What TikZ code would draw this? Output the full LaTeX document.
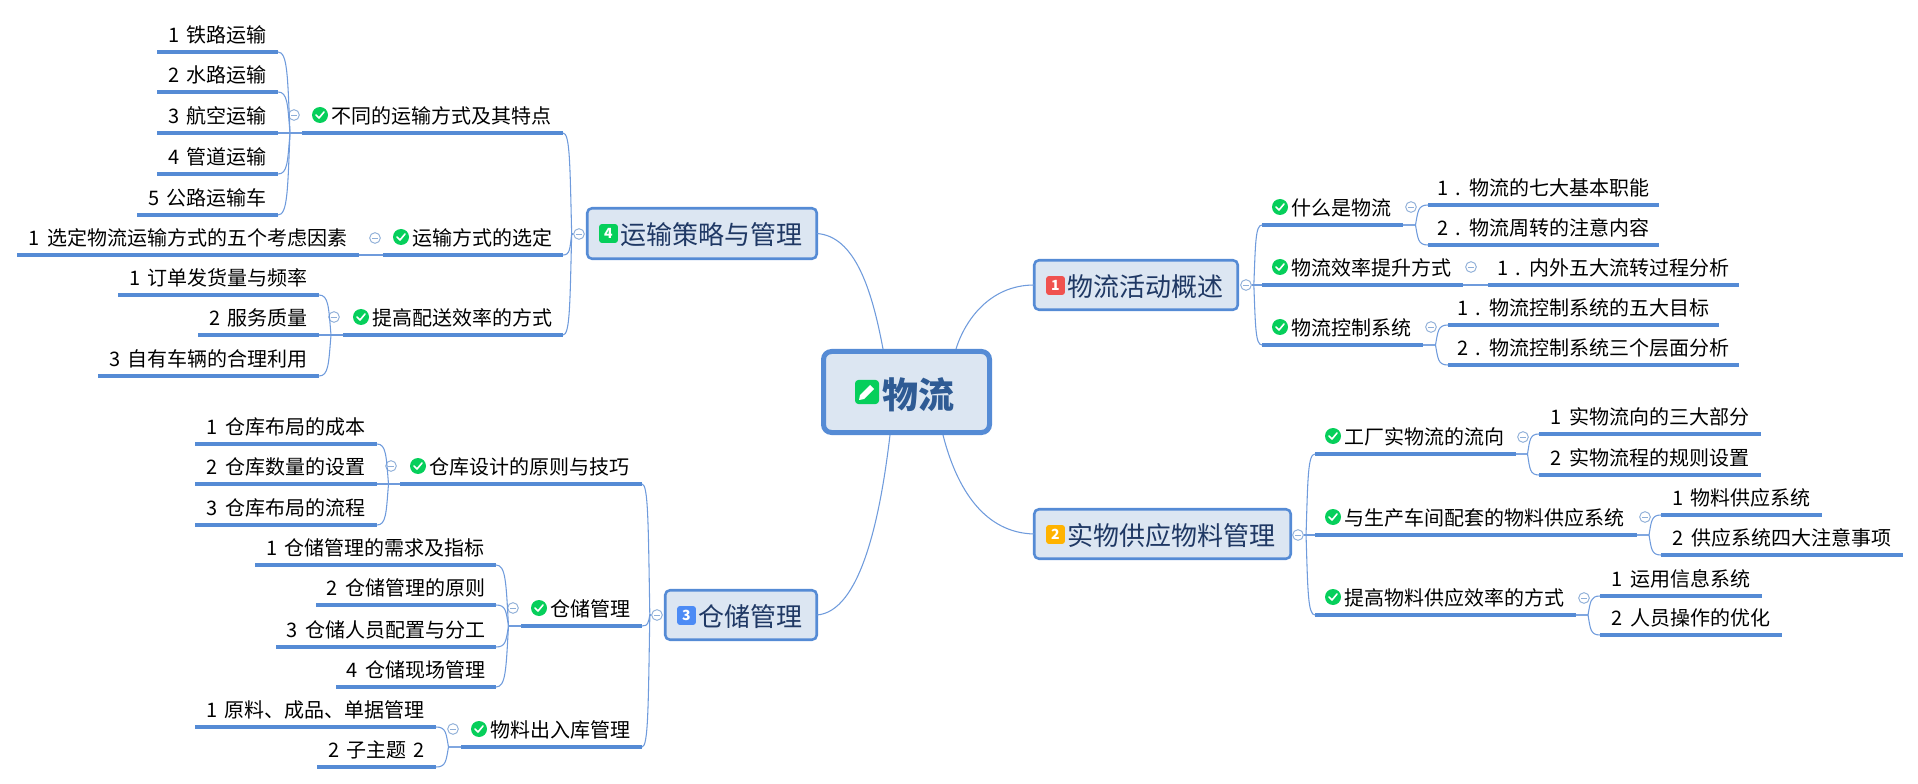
\documentclass[tikz,border=0pt]{standalone}
\usepackage{fontspec}
\setmainfont{Noto Sans CJK SC}
\usetikzlibrary{calc}
\definecolor{mmline}{HTML}{558BD5}
\definecolor{mmthin}{HTML}{6F9BDC}
\definecolor{mmfill}{HTML}{DCE6F2}
\definecolor{mmdark}{HTML}{1F3864}
\definecolor{mmroot}{HTML}{2F5B94}
\definecolor{mmgreen}{HTML}{06CF5B}
\definecolor{mmred}{HTML}{F0524F}
\definecolor{mmamber}{HTML}{FFB300}
\definecolor{mmblue}{HTML}{4C8BF5}
\definecolor{mmcoll}{HTML}{8FAFD8}
\tikzset{
  topicbase/.style={inner sep=0pt,outer sep=0pt,anchor=south west,minimum height=25.5pt,text height=13pt,text depth=1.6pt,font=\fontsize{15}{18}\selectfont,text=black},
  mainbox/.style={draw=mmline,fill=mmfill,line width=1.9pt,rounded corners=3.5pt,inner sep=0pt,outer sep=0pt,anchor=south west,text height=18pt,text depth=1.2pt,font=\fontsize{19.5}{22}\selectfont,text=mmdark},
  rootbox/.style={draw=mmline,fill=mmfill,line width=3.75pt,rounded corners=6pt,inner sep=0pt,outer sep=0pt,anchor=south west,text height=26.5pt,text depth=1.4pt,font=\fontsize{27}{30}\selectfont\bfseries,text=mmroot},
  under/.style={draw=mmline,line width=2.4pt},
  conn/.style={draw=mmthin,line width=.8pt},
  collbox/.style={circle,draw=mmcoll,fill=white,line width=.7pt,inner sep=0pt,minimum size=8pt},
  checkdot/.style={circle,fill=mmgreen,inner sep=0pt,minimum size=12pt},
  badge/.style={fill=#1,rounded corners=2.2pt,inner sep=0pt,minimum size=14.2pt,text=white,font=\fontsize{10.5}{11}\selectfont\bfseries}
}
\newcommand\mmleaf[5]{%
  \pgfmathsetlengthmacro\mmw{(#3-#2)*.75pt}%
  \node[topicbase,minimum width=\mmw] (#1) at (#2,#4) {\spaceskip=.37em\relax #5};
  \draw[under] (#1.south west) -- (#1.south east);
}
\newcommand\mmsub[5]{%
  \pgfmathsetlengthmacro\mmw{(#3-#2)*.75pt}%
  \node[topicbase,text width=\mmw,align=left] (#1) at (#2,#4) {\hspace*{21.75pt}#5};
  \draw[under] (#1.south west) -- (#1.south east);
  \node[checkdot] (#1chk) at ([shift={(18,-18)}]#1.south west) {};
  \draw[white,line width=1.2pt,line cap=round,line join=round] ([shift={(-4,0)}]#1chk.center) -- ([shift={(-1,3)}]#1chk.center) -- ([shift={(4,-3)}]#1chk.center);
}
\newcommand\mmmain[7]{% name x1 y1 x2 y2 colour text
  \pgfmathsetlengthmacro\mmw{(#4-#2-2.5)*.75pt}%
  \pgfmathsetlengthmacro\mmh{(#5-#3-2.5)*.75pt}%
  \pgfmathsetmacro\mmxa{#2+1.25}%
  \pgfmathsetmacro\mmya{#5-1.25}%
  \node[mainbox,text width=\mmw,minimum height=\mmh,align=left] (#1) at (\mmxa,\mmya) {\hspace*{25.3pt}#7};
  \node[badge=#6] (#1ic) at ([shift={(21.25,25.25)}]#1.west |- #1.north) {\csname mmnum#1\endcsname};
}
\newcommand\mmcoll[3]{%
  \node[collbox] (#1) at (#2,#3) {};
  \draw[mmcoll,line width=.7pt] ([shift={(-3,0)}]#1.center) -- ([shift={(3,0)}]#1.center);
}
\newcommand\mmlink[3][.5]{%
  \draw[conn] let \p1=(#2),\p2=(#3),\n1={\x1+#1*(\x2-\x1)} in
    (\p1) -- (\n1,\y1) .. controls ({\n1+.2*(\x2-\n1)},{\y1+.7*(\y2-\y1)}) and ({\n1+.2*(\x2-\n1)},\y2) .. (\p2);
}
\def\mmnumma{1}\def\mmnummb{2}\def\mmnummc{3}\def\mmnummd{4}
\begin{document}
\begin{tikzpicture}[x=.75pt,y=-.75pt]
\useasboundingbox (0,0) rectangle (1918,784);
\coordinate (rn1) at (883,349);\coordinate (rn2) at (956,349);
\coordinate (rs1) at (890,435);\coordinate (rs2) at (943,435);
% main topics
\mmmain{ma}{1033}{259}{1239}{311}{mmred}{物流活动概述}
\mmmain{mb}{1033}{508}{1292}{560}{mmamber}{实物供应物料管理}
\mmmain{mc}{664}{589}{818}{641}{mmblue}{仓储管理}
\mmmain{md}{586}{207}{818}{260}{mmgreen}{运输策略与管理}
\draw[conn] (ma.west) .. controls (990,285) and (965,320) .. (rn2);
\draw[conn] (mb.west) .. controls (985,533) and (957,490) .. (rs2);
\draw[conn] (mc.east) .. controls (860,612) and (880,520) .. (rs1);
\draw[conn] (md.east) .. controls (855,236) and (872,290) .. (rn1);
% root
\node[rootbox,text width=124.5pt,minimum height=60.75pt,align=left] (root) at (823.5,432.5) {\hspace*{44.6pt}物流};
\node[fill=mmgreen,rounded corners=2.5pt,inner sep=0pt,minimum size=18pt] (rootic) at (867,392) {};
\fill[white] ([shift={(-8,8)}]rootic.center) -- ([shift={(-7,3)}]rootic.center) -- ([shift={(3,-7)}]rootic.center) -- ([shift={(7,-3)}]rootic.center) -- ([shift={(-3,7)}]rootic.center) -- cycle;
% --- branch 1
\mmsub{a1}{1262}{1403}{225}{什么是物流}
\mmsub{a2}{1262}{1463}{285}{物流效率提升方式}
\mmsub{a3}{1262}{1423}{345}{物流控制系统}
\mmleaf{a11}{1428}{1659}{205}{1 . 物流的七大基本职能}
\mmleaf{a12}{1428}{1659}{245}{2 . 物流周转的注意内容}
\mmleaf{a21}{1488}{1739}{285}{1 . 内外五大流转过程分析}
\mmleaf{a31}{1448}{1719}{325}{1 . 物流控制系统的五大目标}
\mmleaf{a32}{1448}{1739}{365}{2 . 物流控制系统三个层面分析}
\mmcoll{ca}{1246}{285}\mmcoll{ca1}{1411}{207}\mmcoll{ca2}{1471}{267}\mmcoll{ca3}{1431}{327}
\mmlink[.2]{ca.east}{a1.south west}\mmlink[.2]{ca.east}{a2.south west}\mmlink[.2]{ca.east}{a3.south west}
\mmlink{a1.south east}{a11.south west}\mmlink{a1.south east}{a12.south west}
\mmlink{a2.south east}{a21.south west}
\mmlink{a3.south east}{a31.south west}\mmlink{a3.south east}{a32.south west}
% --- branch 2
\mmsub{b1}{1315}{1516}{454}{工厂实物流的流向}
\mmsub{b2}{1315}{1637}{535}{与生产车间配套的物料供应系统}
\mmsub{b3}{1315}{1576}{615}{提高物料供应效率的方式}
\mmleaf{b11}{1539}{1761}{434}{1 实物流向的三大部分}
\mmleaf{b12}{1539}{1761}{475}{2 实物流程的规则设置}
\mmleaf{b21}{1661}{1822}{515}{1 物料供应系统}
\mmleaf{b22}{1661}{1903}{555}{2 供应系统四大注意事项}
\mmleaf{b31}{1600}{1762}{596}{1 运用信息系统}
\mmleaf{b32}{1600}{1782}{635}{2 人员操作的优化}
\mmcoll{cb}{1298}{535}\mmcoll{cb1}{1523}{437}\mmcoll{cb2}{1645}{517}\mmcoll{cb3}{1584}{598}
\mmlink[.2]{cb.east}{b1.south west}\mmlink[.2]{cb.east}{b2.south west}\mmlink[.2]{cb.east}{b3.south west}
\mmlink{b1.south east}{b11.south west}\mmlink{b1.south east}{b12.south west}
\mmlink{b2.south east}{b21.south west}\mmlink{b2.south east}{b22.south west}
\mmlink{b3.south east}{b31.south west}\mmlink{b3.south east}{b32.south west}
% --- branch 3
\mmsub{c1}{400}{642}{484}{仓库设计的原则与技巧}
\mmsub{c2}{521}{642}{626}{仓储管理}
\mmsub{c3}{461}{642}{747}{物料出入库管理}
\mmleaf{c11}{195}{377}{444}{1 仓库布局的成本}
\mmleaf{c12}{195}{377}{484}{2 仓库数量的设置}
\mmleaf{c13}{195}{377}{525}{3 仓库布局的流程}
\mmleaf{c21}{255}{496}{565}{1 仓储管理的需求及指标}
\mmleaf{c22}{316}{496}{605}{2 仓储管理的原则}
\mmleaf{c23}{276}{496}{647}{3 仓储人员配置与分工}
\mmleaf{c24}{336}{496}{687}{4 仓储现场管理}
\mmleaf{c31}{195}{436}{727}{1 原料、成品、单据管理}
\mmleaf{c32}{317}{436}{767}{2 子主题 2}
\mmcoll{cc}{657}{615}\mmcoll{cc1}{391}{466}\mmcoll{cc2}{513}{608}\mmcoll{cc3}{453}{729}
\mmlink[.15]{cc.west}{c1.south east}\mmlink[.15]{cc.west}{c2.south east}\mmlink[.15]{cc.west}{c3.south east}
\mmlink{c1.south west}{c11.south east}\mmlink{c1.south west}{c12.south east}\mmlink{c1.south west}{c13.south east}
\mmlink{c2.south west}{c21.south east}\mmlink{c2.south west}{c22.south east}\mmlink{c2.south west}{c23.south east}\mmlink{c2.south west}{c24.south east}
\mmlink{c3.south west}{c31.south east}\mmlink{c3.south west}{c32.south east}
% --- branch 4
\mmsub{d1}{302}{563}{133}{不同的运输方式及其特点}
\mmsub{d2}{383}{563}{255}{运输方式的选定}
\mmsub{d3}{343}{563}{335}{提高配送效率的方式}
\mmleaf{d11}{157}{278}{52}{1 铁路运输}
\mmleaf{d12}{157}{278}{92}{2 水路运输}
\mmleaf{d13}{157}{278}{133}{3 航空运输}
\mmleaf{d14}{157}{278}{174}{4 管道运输}
\mmleaf{d15}{137}{278}{215}{5 公路运输车}
\mmleaf{d21}{17}{359}{255}{1 选定物流运输方式的五个考虑因素}
\mmleaf{d31}{118}{319}{295}{1 订单发货量与频率}
\mmleaf{d32}{198}{319}{335}{2 服务质量}
\mmleaf{d33}{98}{319}{376}{3 自有车辆的合理利用}
\mmcoll{cd}{579}{234}\mmcoll{cd1}{294}{115}\mmcoll{cd2}{375}{238}\mmcoll{cd3}{334}{317}
\mmlink[.15]{cd.west}{d1.south east}\mmlink[.15]{cd.west}{d2.south east}\mmlink[.15]{cd.west}{d3.south east}
\mmlink{d1.south west}{d11.south east}\mmlink{d1.south west}{d12.south east}\mmlink{d1.south west}{d13.south east}\mmlink{d1.south west}{d14.south east}\mmlink{d1.south west}{d15.south east}
\mmlink{d2.south west}{d21.south east}
\mmlink{d3.south west}{d31.south east}\mmlink{d3.south west}{d32.south east}\mmlink{d3.south west}{d33.south east}
\end{tikzpicture}
\end{document}
